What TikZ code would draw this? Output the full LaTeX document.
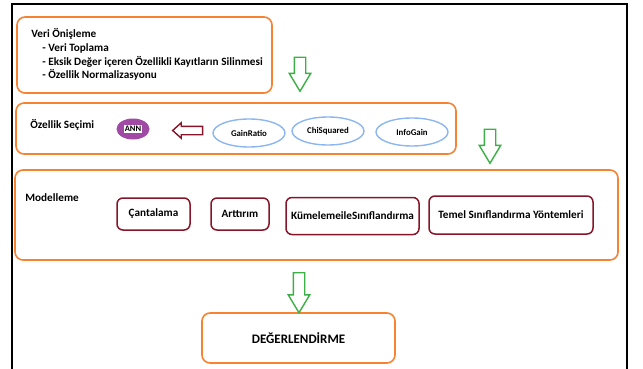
\documentclass[tikz,border=0pt]{standalone}
\usepackage{fontspec}
\setmainfont{Carlito}
\usetikzlibrary{shapes, shapes.geometric, shapes.arrows, positioning}

\definecolor{orangeline}{RGB}{246,130,50}
\definecolor{greenarrow}{RGB}{60,176,70}
\definecolor{darkred}{RGB}{135,20,40}
\definecolor{annpurple}{RGB}{160,74,166}
\definecolor{lightblue}{RGB}{140,182,242}

\begin{document}
\begin{tikzpicture}[x=1pt, y=-1pt,
  font=\bfseries\fontsize{11.2}{13}\selectfont,
  stage/.style={draw=orangeline, line width=1.6pt, rounded corners=8pt},
  method/.style={draw=darkred, line width=1.5pt, rounded corners=6pt, minimum height=32pt, inner sep=0pt},
  measure/.style={ellipse, draw=lightblue, line width=1.4pt, minimum width=72pt, minimum height=28pt, inner sep=0pt, font=\bfseries\fontsize{8.8}{10}\selectfont},
  downarrow/.style={single arrow, draw=greenarrow, line width=1.4pt, rotate=-90, inner sep=5pt, single arrow head extend=5pt, single arrow tip angle=62, minimum height=34pt},
  thick]

  \useasboundingbox (0,0) rectangle (643,369);
  \draw[line width=2pt] (12,369) -- (12,4) -- (627,4) -- (627,369);

  % stages
  \node[stage, minimum width=255pt, minimum height=76pt] (prep) at (144.5,55) {};
  \node[stage, minimum width=440pt, minimum height=51pt] (select) at (236,128.5) {};
  \node[stage, minimum width=603pt, minimum height=90pt] (model) at (316.5,215) {};
  \node[stage, minimum width=193pt, minimum height=50pt] (eval) at (298.5,338) {};

  \node[anchor=west, inner sep=0pt] (preptitle) at (31,34) {Veri Önişleme};
  \node[anchor=north west, inner sep=0pt, align=left, font=\bfseries\fontsize{11.2}{13.6}\selectfont] (preplist) at (42,43.5)
    {- Veri Toplama\\- Eksik Değer içeren Özellikli Kayıtların Silinmesi\\- Özellik Normalizasyonu};

  \node[anchor=west, inner sep=0pt] (seltitle) at (30,125) {Özellik Seçimi};
  \node[ellipse, fill=annpurple, minimum width=33pt, minimum height=21pt, inner sep=0pt] (ann) at (133,129) {};
  \node[fill=white, inner sep=0.8pt, font=\bfseries\fontsize{8.5}{9}\selectfont] (anntext) at (ann) {ANN};
  \node[single arrow, draw=darkred, line width=1.4pt, rotate=180, inner sep=3.5pt, single arrow head extend=3.5pt, single arrow tip angle=84, minimum height=30pt] (back) at (190,130.5) {};
  \node[measure] (gain) at (249,133) {GainRatio};
  \node[measure] (chi) at (328,131) {ChiSquared};
  \node[measure] (info) at (412,132) {InfoGain};

  \node[anchor=west, inner sep=0pt] (modeltitle) at (25,198) {Modelleme};
  \node[method, minimum width=73pt] (bag) at (153.5,214) {Çantalama};
  \node[method, minimum width=58pt] (boost) at (240,214) {Arttırım};
  \node[method, minimum width=133pt, minimum height=37pt] (cluster) at (352.5,216) {KümelemeileSınıflandırma};
  \node[method, minimum width=164pt, minimum height=38pt] (basic) at (511,215) {Temel Sınıflandırma Yöntemleri};

  \node[font=\bfseries\fontsize{13}{15}\selectfont] (evaltext) at (eval) {DEĞERLENDİRME};

  % flow arrows
  \node[downarrow] (flow1) at (300,69.5) {};
  \node[downarrow] (flow2) at (490,141.5) {};
  \node[downarrow, minimum height=40pt] (flow3) at (299,288) {};
\end{tikzpicture}
\end{document}
